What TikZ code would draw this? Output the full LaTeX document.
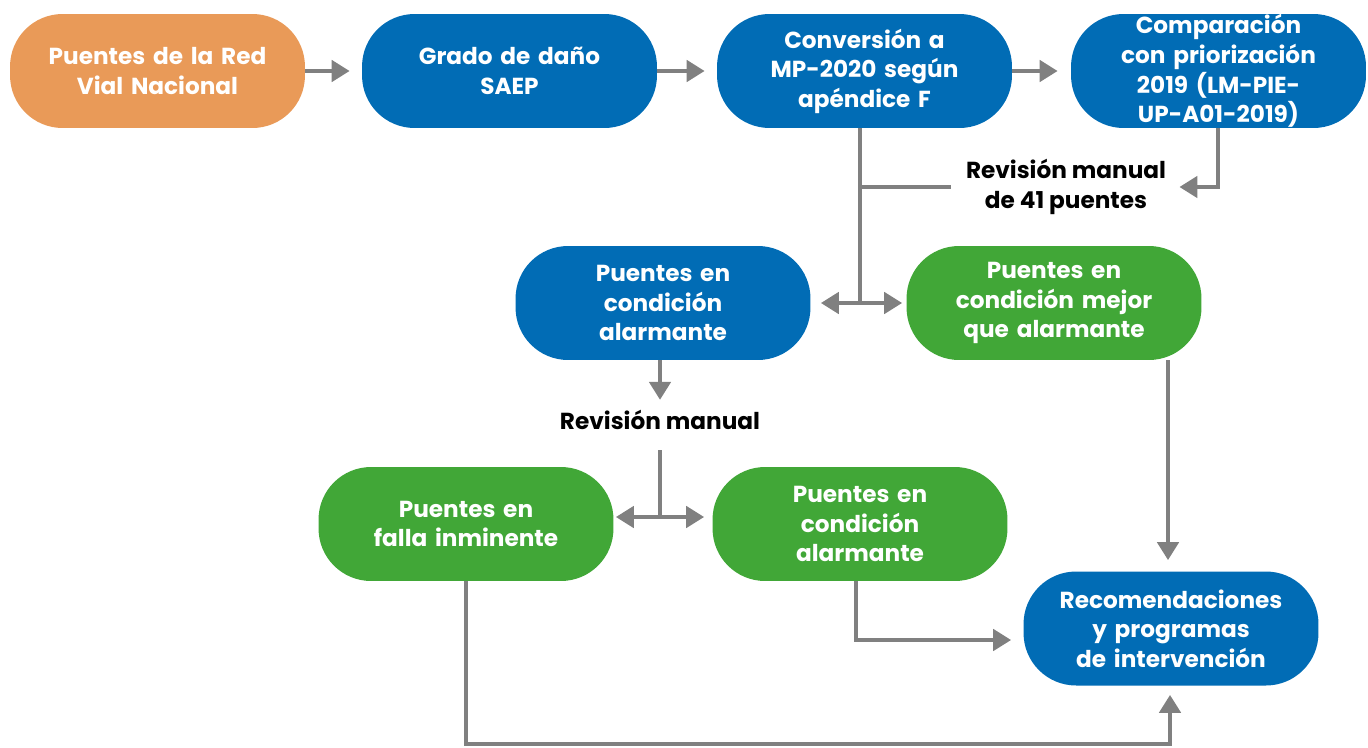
\documentclass[tikz,border=0pt]{standalone}
\usepackage{fontspec}
\setmainfont{Poppins}
\usetikzlibrary{arrows.meta}
\definecolor{cOrange}{HTML}{E99A58}
\definecolor{cBlue}{HTML}{016CB5}
\definecolor{cGreen}{HTML}{41A737}
\definecolor{cGray}{HTML}{808080}
\tikzset{
  box/.style={rectangle, rounded corners=1.05cm, minimum width=5.9cm, minimum height=2.28cm,
    text width=5.6cm, align=center, text=white, font=\fontsize{13.2}{16.8}\selectfont\bfseries, inner sep=0pt},
  obox/.style={box, fill=cOrange},
  bbox/.style={box, fill=cBlue},
  gbox/.style={box, fill=cGreen},
  lbl/.style={align=center, text=black, font=\fontsize{13.2}{16.8}\selectfont\bfseries, inner sep=0pt},
  conn/.style={draw=cGray, line width=2.8pt},
  arr/.style={conn, -{Triangle[length=0.36cm, width=0.42cm]}},
  darr/.style={conn, {Triangle[length=0.36cm, width=0.42cm]}-{Triangle[length=0.36cm, width=0.42cm]}}
}
\begin{document}
\begin{tikzpicture}[x=0.02cm, y=-0.02cm]
\useasboundingbox (0,0) rectangle (1368,747);
\node[obox] (n1) at (157.5,71) {Puentes de la Red\\Vial Nacional};
\node[bbox] (n2) at (509.5,71) {Grado de daño\\SAEP};
\node[bbox] (n3) at (864.5,71) {Conversión a\\MP-2020 según\\apéndice F};
\node[bbox] (n4) at (1218.5,71) {Comparación\\con priorización\\2019 (LM-PIE-\\UP-A01-2019)};
\node[bbox] (n5) at (663,303) {Puentes en\\condición\\alarmante};
\node[gbox] (n6) at (1054,303) {Puentes en\\condición mejor\\que alarmante};
\node[gbox] (n7) at (466,524) {Puentes en\\falla inminente};
\node[gbox] (n8) at (860,524) {Puentes en\\condición\\alarmante};
\node[bbox] (n9) at (1171,628.5) {Recomendaciones\\y programas\\de intervención};
\node[lbl] (r41) at (1066,187) {Revisión manual\\de 41 puentes};
\node[lbl] (rm) at (660,420) {Revisión manual};
% junctions
\coordinate (j1) at (860,303);
\coordinate (j2) at (860,187);
\coordinate (j3) at (660,517);
\coordinate (rmb) at (660,450);
\coordinate (c4) at (1218,128);
\coordinate (c5) at (660,360);
\coordinate (c6) at (1168,360);
\coordinate (c8) at (856,581);
\coordinate (c8b) at (856,640);
\coordinate (c7) at (466,581);
\coordinate (c7b) at (466,744);
\coordinate (c7c) at (1170,744);
% top row
\draw[arr, shorten >=0.24cm] (n1.east) -- (n2.west);
\draw[arr, shorten >=0.24cm] (n2.east) -- (n3.west);
\draw[arr, shorten >=0.26cm] (n3.east) -- (n4.west);
% comparison to label
\draw[arr, shorten >=0.26cm] (c4) |- (r41.east);
% conversion down
\draw[conn] (j1 |- n3.south) -- (j1);
\draw[conn, shorten >=0.3cm] (j2) -- (r41.west);
\draw[arr, shorten >=0.2cm] (j1) -- (j1 -| n5.east);
\draw[arr, shorten >=0.08cm] (j1) -- (j1 -| n6.west);
% alarmante down
\draw[arr, shorten >=0.2cm] (c5) -- (rm.north);
\draw[conn] (rmb) -- (j3);
\draw[arr, shorten >=0.04cm] (j3) -- (j3 -| n7.east);
\draw[arr, shorten >=0.16cm] (j3) -- (j3 -| n8.west);
% to recommendations
\draw[arr, shorten >=0.22cm] (c6) -- (c6 |- n9.north);
\draw[arr, shorten >=0.24cm] (c8) -- (c8b) -- (c8b -| n9.west);
\draw[arr, shorten >=0.18cm] (c7) -- (c7b) -- (c7c) -- (c7c |- n9.south);
\end{tikzpicture}
\end{document}
